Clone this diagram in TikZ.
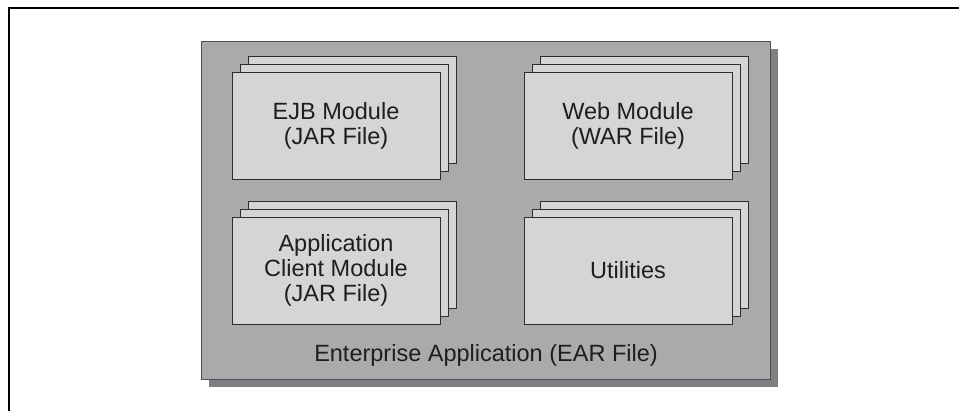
\documentclass[tikz,border=0pt]{standalone}
\usepackage{fontspec}
\setmainfont{Liberation Sans}
\usetikzlibrary{shadows}
\definecolor{earfill}{HTML}{A9AAAC}
\definecolor{earshadow}{HTML}{7F8083}
\definecolor{earline}{HTML}{505052}
\definecolor{cardfill}{HTML}{D4D5D7}
\definecolor{cardline}{HTML}{2E2E30}
\definecolor{textcol}{HTML}{1E1E1E}
\begin{document}
\begin{tikzpicture}[x=1pt,y=-1pt,
  labelfont/.style={font=\fontsize{23.5}{25}\selectfont, text=textcol},
  card/.style={draw=cardline, fill=cardfill, line width=0.9pt,
    minimum width=208pt, minimum height=107pt, inner sep=0pt, outer sep=0pt,
    anchor=north west, align=center, labelfont},
  earbox/.style={draw=earline, fill=earfill, line width=0.9pt,
    minimum width=569pt, minimum height=338pt, inner sep=0pt, outer sep=0pt,
    anchor=north west,
    drop shadow={shadow xshift=8pt, shadow yshift=-8pt, fill=earshadow, opacity=1}}]
  \useasboundingbox (0,0) rectangle (959,411);
  \clip (0,0) rectangle (959,411);

  % outer frame, running past the right and bottom edges
  \draw[line width=2.8pt, black] (9,8) rectangle (990,440);

  % enterprise application container
  \node[earbox] (ear) at (201,41) {};

  % EJB module stack
  \node[card] (ejb3) at (248,56) {};
  \node[card] (ejb2) at (240,64) {};
  \node[card] (ejb)  at (232,72) {EJB Module\\(JAR File)};

  % web module stack
  \node[card] (web3) at (540,56) {};
  \node[card] (web2) at (532,64) {};
  \node[card] (web)  at (524,72) {Web Module\\(WAR File)};

  % application client stack
  \node[card] (app3) at (248,201) {};
  \node[card] (app2) at (240,209) {};
  \node[card] (app)  at (232,217) {Application\\Client Module\\(JAR File)};

  % utilities stack
  \node[card] (util3) at (540,201) {};
  \node[card] (util2) at (532,209) {};
  \node[card] (util)  at (524,217) {Utilities};

  % container caption
  \node[labelfont, anchor=base] (earlabel) at (486,362) {Enterprise Application (EAR File)};
\end{tikzpicture}
\end{document}
